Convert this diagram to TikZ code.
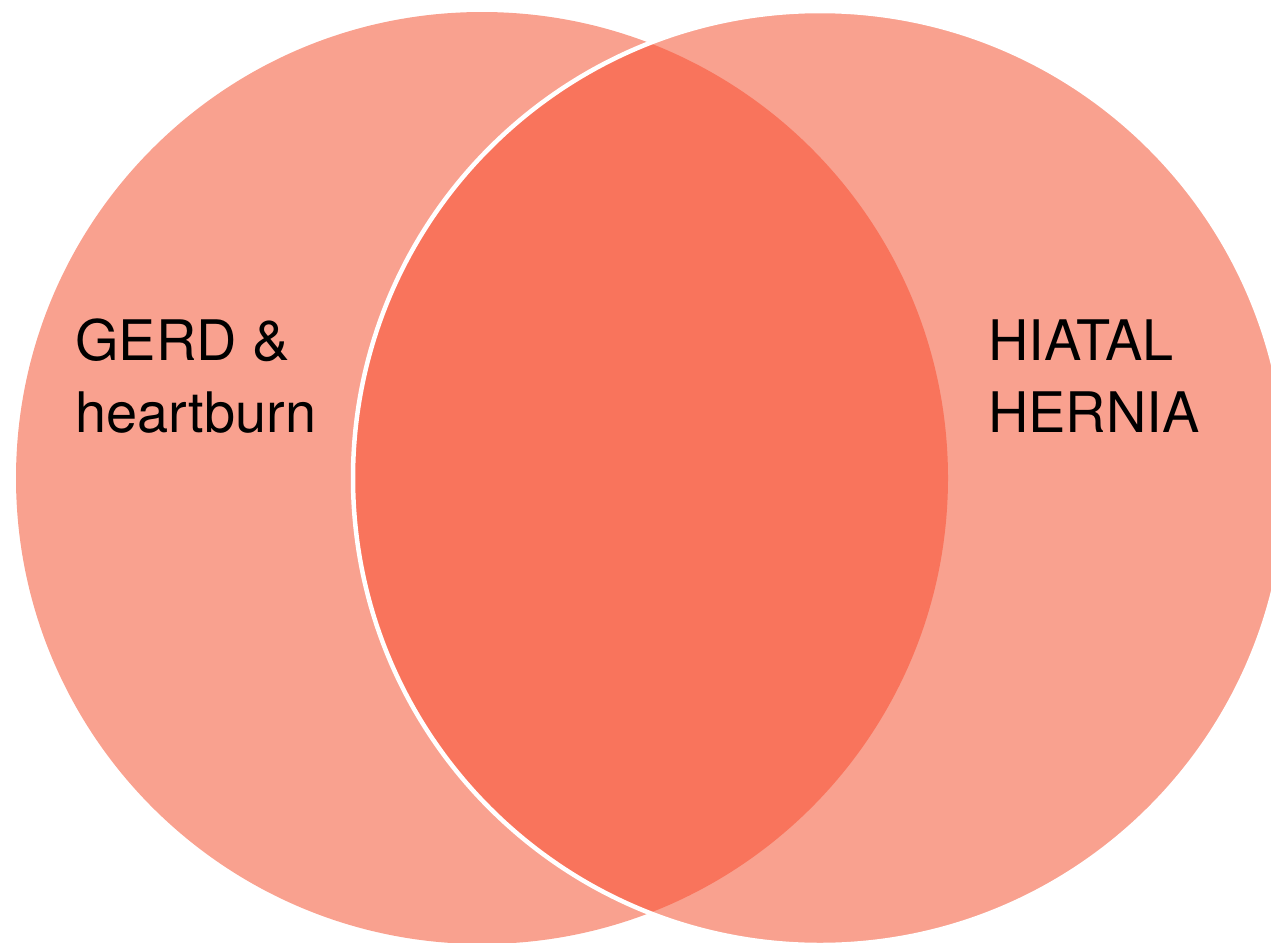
\documentclass[tikz,border=0pt]{standalone}
\usepackage{fontspec}
\setmainfont{TeX Gyre Heros}
\definecolor{light}{HTML}{F9A18F}
\definecolor{dark}{HTML}{F9745C}
\begin{document}
\begin{tikzpicture}[x=0.02cm,y=-0.02cm,
  lbl/.style={inner sep=0pt,anchor=base west,font=\fontsize{31.8}{38}\selectfont}]
\useasboundingbox (0,0) rectangle (1271,943);
\clip (0,0) rectangle (1271,943);
\coordinate (cl) at (482,478);
\coordinate (cr) at (820,478);
\fill[light] (cl) circle[radius=466];
\fill[light] (cr) circle[radius=466];
\begin{scope}
  \clip (cl) circle[radius=466];
  \fill[dark] (cr) circle[radius=466];
\end{scope}
\draw[white,line width=0.09cm] (cr) circle[radius=467];
\node[lbl] (g1) at (75,360) {GERD \&};
\node[lbl] (g2) at (75,432) {heartburn};
\node[lbl] (h1) at (988,360) {HIATAL};
\node[lbl] (h2) at (988,432) {HERNIA};
\end{tikzpicture}
\end{document}
